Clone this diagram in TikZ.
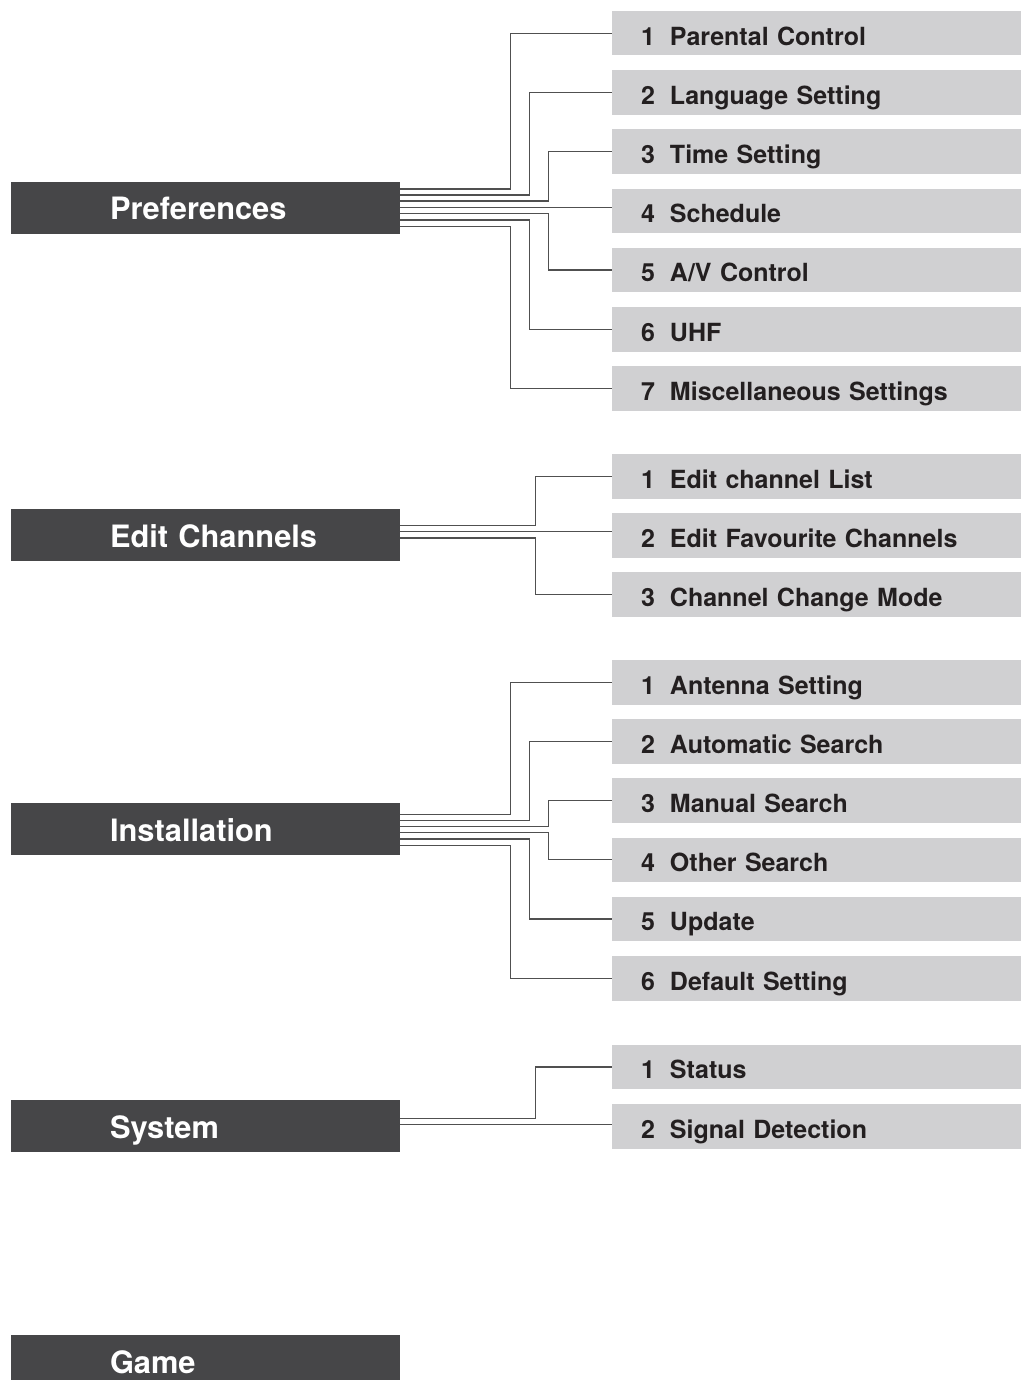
\documentclass[tikz,border=0pt]{standalone}
\usepackage{fontspec}
\setmainfont{TeX Gyre Heros}
\usetikzlibrary{positioning, calc}

\definecolor{menudark}{HTML}{464648}
\definecolor{subgrey}{HTML}{D0D0D2}
\definecolor{wiregrey}{HTML}{505050}
\definecolor{inkdark}{HTML}{231F20}
\newcommand{\itemno}[1]{\makebox[14.5pt][l]{#1}}

\begin{document}
\begin{tikzpicture}[
  x=0.5pt, y=-0.5pt,
  menu/.style={rectangle, fill=menudark, text=white, anchor=north west, inner sep=0pt, outer sep=0pt,
    minimum width=194.5pt, minimum height=26pt, text width=194.5pt, align=left,
    text height=12pt, text depth=0pt, font=\fontsize{15.4}{18}\selectfont\bfseries,
    execute at begin node={\hspace*{49.5pt}}},
  sub/.style={rectangle, fill=subgrey, text=inkdark, inner sep=0pt, outer sep=0pt,
    minimum width=206pt, minimum height=22.25pt, text width=206pt, align=left,
    text height=11.8pt, text depth=0pt, font=\fontsize{12.5}{15}\selectfont\bfseries,
    execute at begin node={\hspace*{14.5pt}}},
  link/.style={draw=wiregrey, line width=0.6pt},
  node distance=7.35pt,
]
\useasboundingbox (0,0) rectangle (1021,1380);
% main menu
\node[menu] (pref) at (11,182) {Preferences};
\node[menu] (edit) at (11,509) {Edit Channels};
\node[menu] (inst) at (11,803) {Installation};
\node[menu] (sys) at (11,1100) {System};
\node[menu] (game) at (11,1335) {Game};
% preferences
\node[sub, anchor=north west] (p1) at (612,11) {\itemno{1}Parental Control};
\node[sub, below=of p1] (p2) {\itemno{2}Language Setting};
\node[sub, below=of p2] (p3) {\itemno{3}Time Setting};
\node[sub, below=of p3] (p4) {\itemno{4}Schedule};
\node[sub, below=of p4] (p5) {\itemno{5}A/V Control};
\node[sub, below=of p5] (p6) {\itemno{6}UHF};
\node[sub, below=of p6] (p7) {\itemno{7}Miscellaneous Settings};
% edit channels
\node[sub, anchor=north west] (e1) at (612,454) {\itemno{1}Edit channel List};
\node[sub, below=of e1] (e2) {\itemno{2}Edit Favourite Channels};
\node[sub, below=of e2] (e3) {\itemno{3}Channel Change Mode};
% installation
\node[sub, anchor=north west] (i1) at (612,660) {\itemno{1}Antenna Setting};
\node[sub, below=of i1] (i2) {\itemno{2}Automatic Search};
\node[sub, below=of i2] (i3) {\itemno{3}Manual Search};
\node[sub, below=of i3] (i4) {\itemno{4}Other Search};
\node[sub, below=of i4] (i5) {\itemno{5}Update};
\node[sub, below=of i5] (i6) {\itemno{6}Default Setting};
% system
\node[sub, anchor=north west] (s1) at (612,1044.8) {\itemno{1}Status};
\node[sub, below=of s1] (s2) {\itemno{2}Signal Detection};
% wires
\draw[link] ([yshift=9.5pt]pref.east) -| ([xshift=-50.65pt]p1.west) -- (p1.west);
\draw[link] ([yshift=6.5pt]pref.east) -| ([xshift=-41.35pt]p2.west) -- (p2.west);
\draw[link] ([yshift=3.5pt]pref.east) -| ([xshift=-31.85pt]p3.west) -- (p3.west);
\draw[link] ($(pref.east)+(0,0.35pt)$) -- ($(pref.east -| p4.west)+(0,0.35pt)$);
\draw[link] ([yshift=-2.85pt]pref.east) -| ([xshift=-31.85pt]p5.west) -- (p5.west);
\draw[link] ([yshift=-6pt]pref.east) -| ([xshift=-41.35pt]p6.west) -- (p6.west);
\draw[link] ([yshift=-9.35pt]pref.east) -| ([xshift=-50.65pt]p7.west) -- (p7.west);
\draw[link] ([yshift=4.65pt]edit.east) -| ([xshift=-38.15pt]e1.west) -- (e1.west);
\draw[link] ($(edit.east)+(0,1.65pt)$) -- ($(edit.east -| e2.west)+(0,1.65pt)$);
\draw[link] ([yshift=-1.5pt]edit.east) -| ([xshift=-38.15pt]e3.west) -- (e3.west);
\draw[link] ([yshift=7.35pt]inst.east) -| ([xshift=-50.65pt]i1.west) -- (i1.west);
\draw[link] ([yshift=4.35pt]inst.east) -| ([xshift=-41.35pt]i2.west) -- (i2.west);
\draw[link] ([yshift=1.15pt]inst.east) -| ([xshift=-31.85pt]i3.west) -- (i3.west);
\draw[link] ([yshift=-1.85pt]inst.east) -| ([xshift=-31.85pt]i4.west) -- (i4.west);
\draw[link] ([yshift=-5pt]inst.east) -| ([xshift=-41.35pt]i5.west) -- (i5.west);
\draw[link] ([yshift=-8.15pt]inst.east) -| ([xshift=-50.65pt]i6.west) -- (i6.west);
\draw[link] ([yshift=3.65pt]sys.east) -| ([xshift=-38.15pt]s1.west) -- (s1.west);
\draw[link] ($(sys.east)+(0,0.65pt)$) -- ($(sys.east -| s2.west)+(0,0.65pt)$);
\end{tikzpicture}
\end{document}
